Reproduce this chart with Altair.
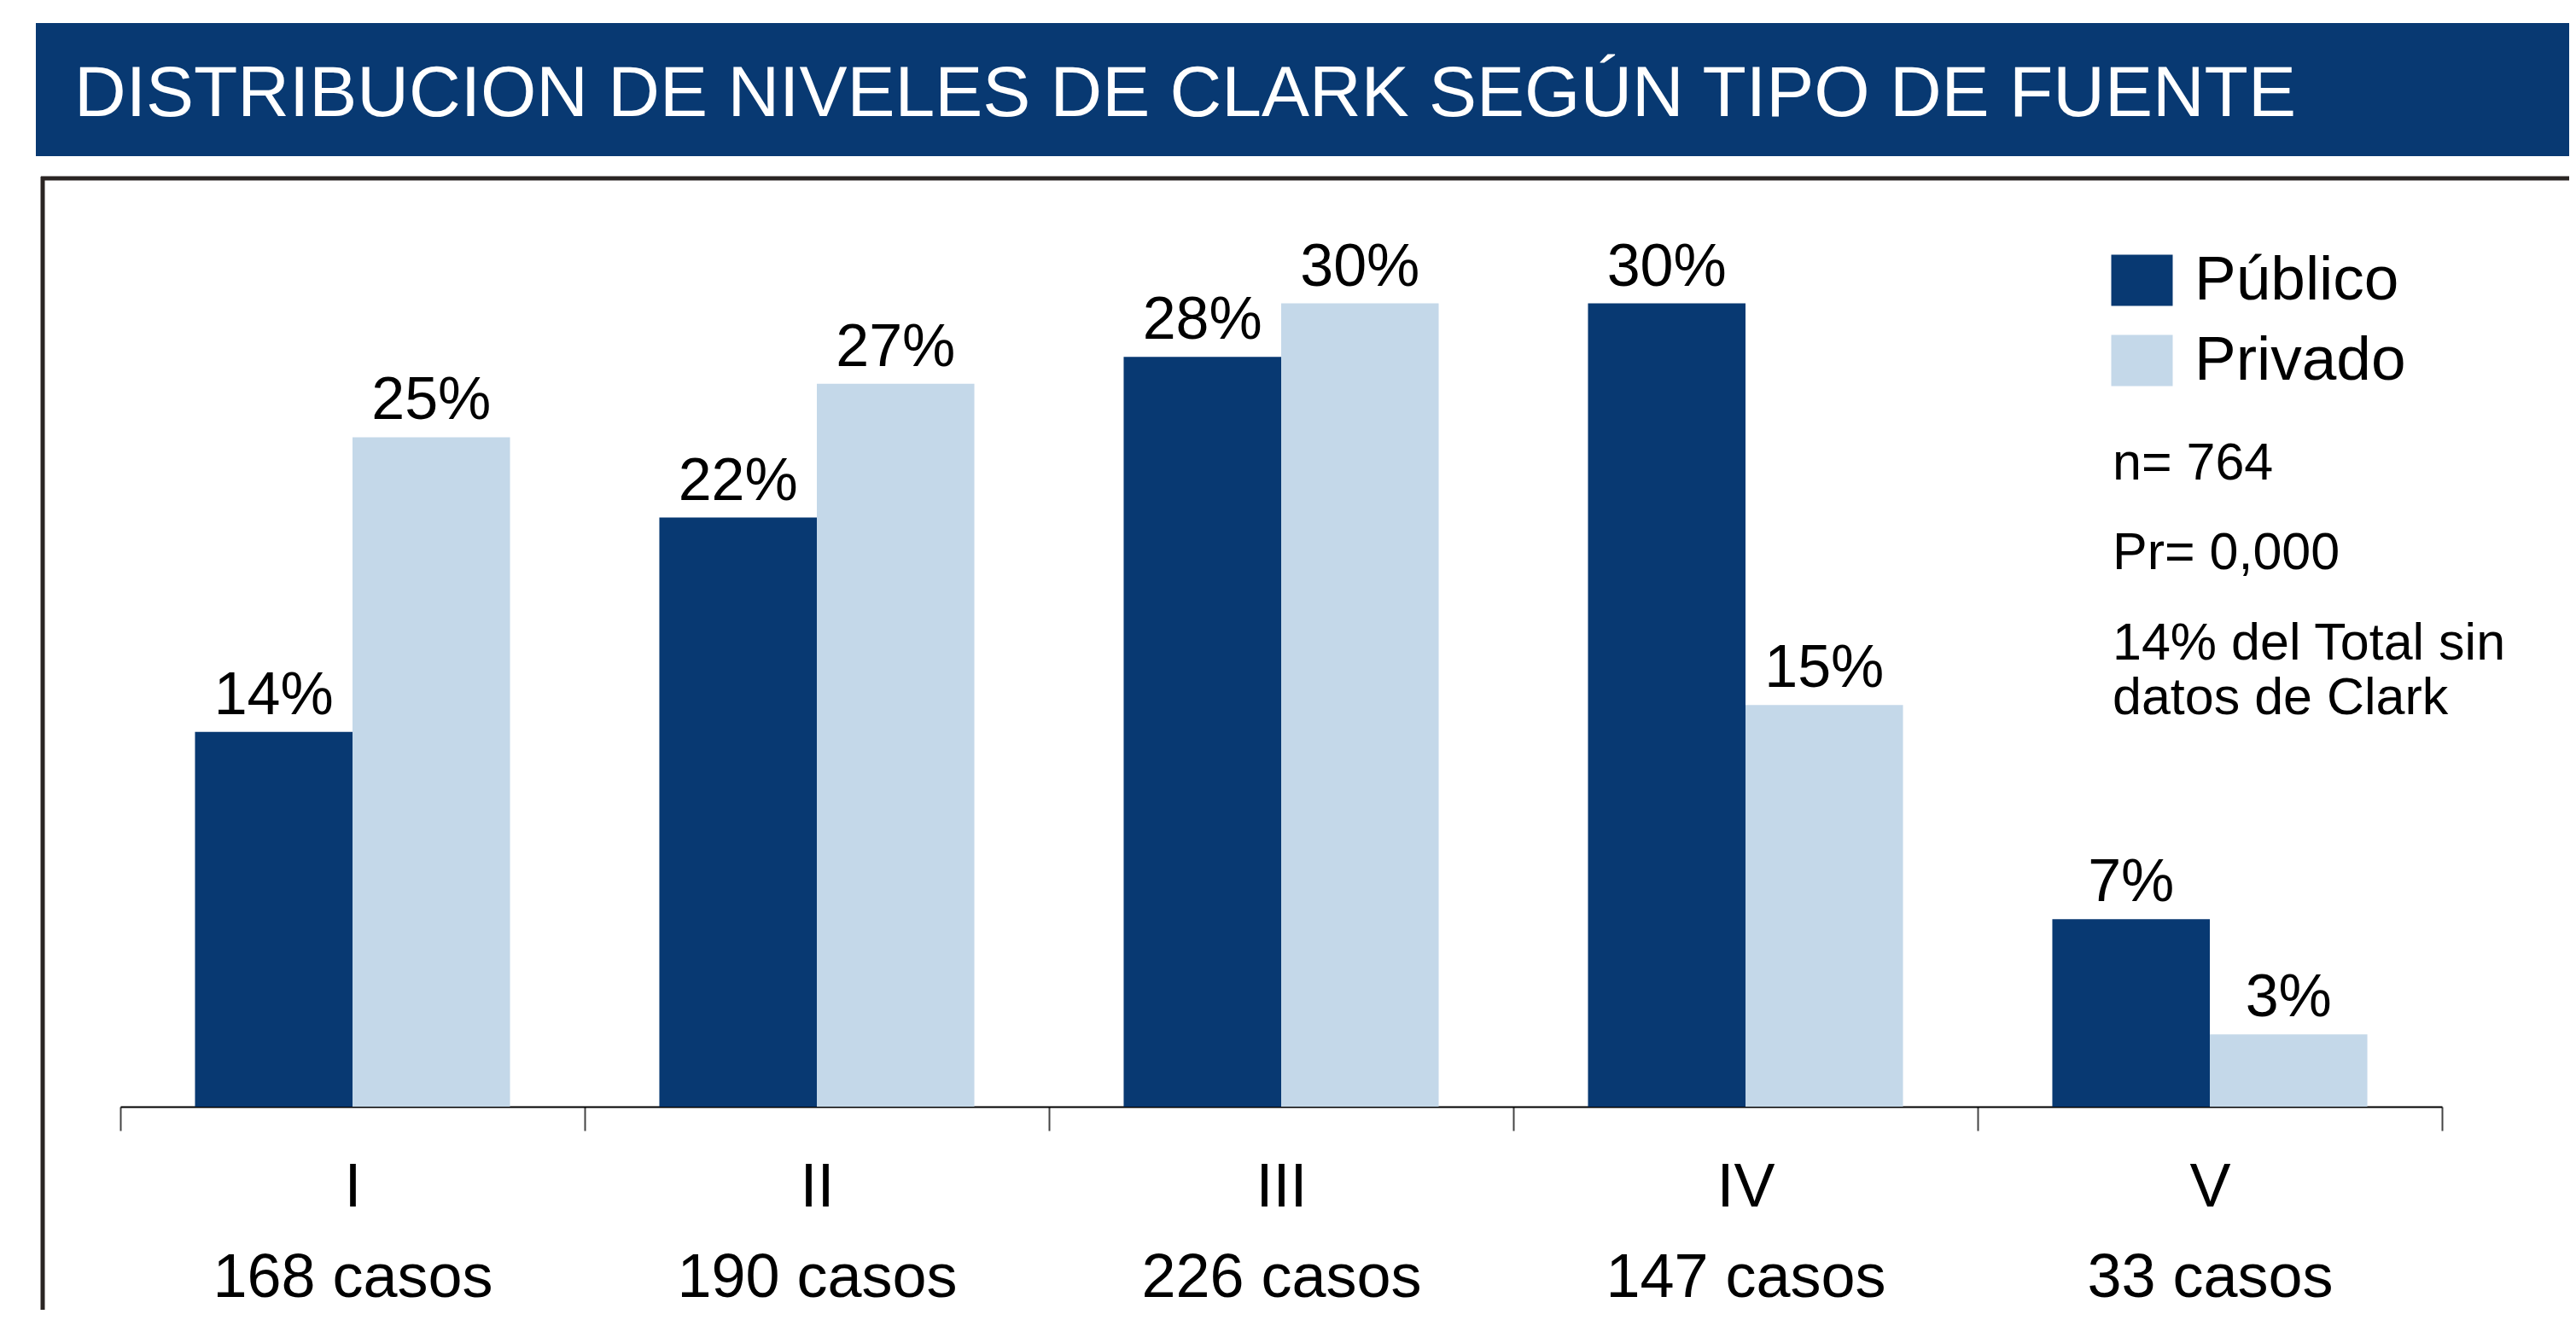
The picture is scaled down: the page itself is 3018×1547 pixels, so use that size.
import altair as alt
import pandas as pd

# ---- data ----
niveles = ["I", "II", "III", "IV", "V"]
casos = [168, 190, 226, 147, 33]
fuentes = ["Público", "Privado"]
publico = [14, 22, 28, 30, 7]
privado = [25, 27, 30, 15, 2.7]
colores = ["#083972", "#c4d8e9"]
titulo = "DISTRIBUCION DE NIVELES DE CLARK SEGÚN TIPO DE FUENTE"
nota_n = "n= 764"
nota_pr = "Pr= 0,000"
nota_total = "14% del Total sin\ndatos de Clark"

FONT = "Liberation Sans, Arial, Helvetica, sans-serif"
DARK = "#083972"

ejes = [f"{n}|{c} casos" for n, c in zip(niveles, casos)]
rows = []
for i, e in enumerate(ejes):
    rows.append({"eje": e, "fuente": fuentes[0], "valor": publico[i]})
    rows.append({"eje": e, "fuente": fuentes[1], "valor": privado[i]})
df = pd.DataFrame(rows)

W, H = 2720, 1067

xenc = alt.X(
    "eje:N",
    sort=ejes,
    scale=alt.Scale(paddingInner=0, paddingOuter=0),
    axis=alt.Axis(
        title=None,
        labelExpr="split(datum.label, '|')",
        labelAngle=0,
        labelFont=FONT,
        labelFontSize=72,
        labelLineHeight=106,
        labelColor="black",
        labelPadding=31,
        labelLimit=800,
        domainColor="black",
        domainWidth=2,
        tickColor="#444444",
        tickWidth=2,
        tickSize=28,
        tickBand="extent",
        grid=False,
    ),
)
xoff = alt.XOffset("fuente:N", sort=fuentes, scale=alt.Scale(paddingInner=0, paddingOuter=0.474))
yenc = alt.Y("valor:Q", scale=alt.Scale(domain=[0, 34]), axis=None)

base = alt.Chart(df)

bars = base.mark_bar().encode(
    x=xenc,
    xOffset=xoff,
    y=yenc,
    color=alt.Color(
        "fuente:N",
        sort=fuentes,
        scale=alt.Scale(domain=fuentes, range=colores),
        legend=alt.Legend(
            orient="none",
            legendX=2332,
            legendY=62,
            title=None,
            padding=0,
            labelFont=FONT,
            labelFontSize=73,
            labelColor="black",
            labelLimit=1000,
            labelOffset=25,
            symbolType="M-1.2,-1H1.2V1H-1.2Z",
            symbolSize=3600,
            symbolOpacity=1,
            symbolStrokeWidth=0,
            rowPadding=20,
        ),
    ),
)

labels = base.transform_calculate(
    lbl="format(datum.valor, '.0f') + '%'"
).mark_text(
    baseline="alphabetic", align="center", dy=-21, font=FONT, fontSize=70, color="black"
).encode(x=xenc, xOffset=xoff, y=yenc, text="lbl:N")

banner = alt.Chart(pd.DataFrame({"t": [titulo]})).mark_rect(color=DARK).encode(
    x=alt.value(-99), x2=alt.value(2869), y=alt.value(-203), y2=alt.value(-47)
)
title_txt = alt.Chart(pd.DataFrame({"t": [titulo]})).mark_text(
    align="left", baseline="alphabetic", font=FONT, fontSize=84, color="white"
).encode(x=alt.value(-54), y=alt.value(-94), text="t:N")

frame_top = alt.Chart(pd.DataFrame({"t": [0]})).mark_rule(color="#2a2523", strokeWidth=5).encode(
    x=alt.value(-93), x2=alt.value(2869), y=alt.value(-21)
)
frame_left = alt.Chart(pd.DataFrame({"t": [0]})).mark_rule(color="#2a2523", strokeWidth=5).encode(
    x=alt.value(-91), y=alt.value(-23), y2=alt.value(1310)
)

def nota(texto, ypos):
    return alt.Chart(pd.DataFrame({"t": [texto]})).mark_text(
        align="left", baseline="alphabetic", font=FONT, fontSize=61, color="black",
        lineBreak="\n", lineHeight=64,
    ).encode(x=alt.value(2334), y=alt.value(ypos), text="t:N")

chart = alt.layer(
    banner, title_txt, frame_top, frame_left, bars, labels,
    nota(nota_n, 332), nota(nota_pr, 437), nota(nota_total, 543),
).properties(
    width=W,
    height=H,
    autosize=alt.AutoSizeParams(type="none"),
    padding={"left": 133, "top": 222, "right": 149, "bottom": 238},
).configure_view(stroke=None)

chart.save("out.html", embed_options={"renderer": "svg", "actions": False})
